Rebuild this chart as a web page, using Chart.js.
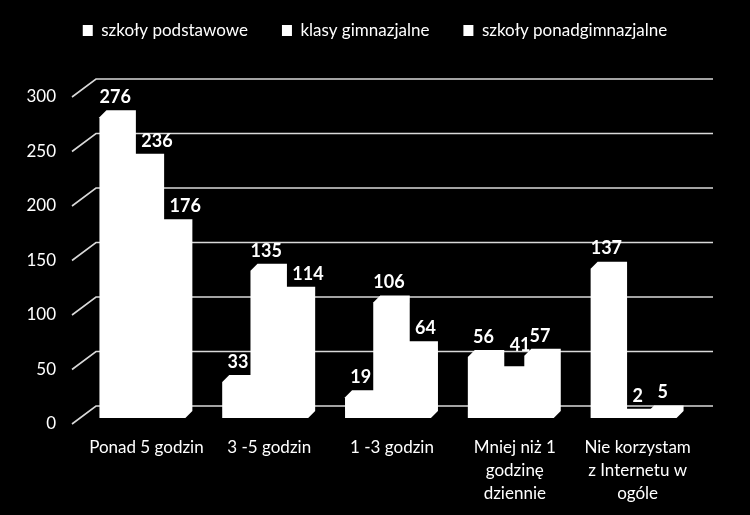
<!DOCTYPE html>
<html>
<head>
<meta charset="utf-8">
<script src="https://cdn.jsdelivr.net/npm/chart.js@4.4.0/dist/chart.umd.min.js"></script>
<style>
  html, body { margin: 0; padding: 0; background: #000; }
  canvas { display: block; background: #000; }
</style>
</head>
<body>
<canvas id="c" width="750" height="515"></canvas>
<script>
// ---- data ----
const categories = [
  'Ponad 5 godzin',
  '3 -5 godzin',
  '1 -3 godzin',
  ['Mniej niż 1', 'godzinę', 'dziennie'],
  ['Nie korzystam', 'z Internetu w', 'ogóle']
];
const seriesNames = ['szkoły podstawowe', 'klasy gimnazjalne', 'szkoły ponadgimnazjalne'];
const szkolyPodstawowe = [276, 33, 19, 56, 137];
const klasyGimnazjalne = [236, 135, 106, 41, 2];
const szkolyPonadgimnazjalne = [176, 114, 64, 57, 5];
const yMin = 0, yMax = 300, yStep = 50;

// ---- style ----
const FONT = 'Lato, "Liberation Sans", sans-serif';
const DEPTH = 7;

// back wall grid + floor diagonals
const wallGrid = {
  id: 'wallGrid',
  beforeDatasetsDraw(chart) {
    const ctx = chart.ctx, ys = chart.scales.y, area = chart.chartArea;
    ctx.save();
    ctx.strokeStyle = '#d9d9d9';
    ctx.lineWidth = 1.6;
    ys.ticks.forEach(t => {
      const yb = ys.getPixelForValue(t.value);
      const yBack = yb - 12;
      ctx.beginPath();
      ctx.moveTo(area.left - 9, yb + 6);
      ctx.lineTo(area.left + 15, yBack);
      ctx.lineTo(area.right + 18, yBack);
      ctx.stroke();
    });
    ctx.restore();
  }
};

// whole 3D silhouette of each bar (front + top + right faces) as one shape
const box3d = {
  id: 'box3d',
  afterDatasetsDraw(chart) {
    const ctx = chart.ctx, d = DEPTH, o = 0.6;
    ctx.save();
    ctx.fillStyle = '#ffffff';
    chart.data.datasets.forEach((ds, i) => {
      chart.getDatasetMeta(i).data.forEach(bar => {
        const p = bar.getProps(['x', 'y', 'base', 'width'], true);
        const x0 = p.x - p.width / 2 - o, x1 = p.x + p.width / 2 + o;
        ctx.beginPath();
        ctx.moveTo(x0, p.base);
        ctx.lineTo(x0, p.y);
        ctx.lineTo(x0 + d, p.y - d);
        ctx.lineTo(x1 + d, p.y - d);
        ctx.lineTo(x1 + d, p.base - d);
        ctx.lineTo(x1, p.base);
        ctx.closePath();
        ctx.fill();
      });
    });
    ctx.restore();
  }
};

// value labels
const valueLabels = {
  id: 'valueLabels',
  afterDatasetsDraw(chart) {
    const ctx = chart.ctx, d = DEPTH;
    ctx.save();
    ctx.fillStyle = '#ffffff';
    ctx.font = 'bold 18px ' + FONT;
    ctx.textAlign = 'center';
    ctx.textBaseline = 'middle';
    const n = chart.data.labels.length;
    const nd = chart.data.datasets.length;
    for (let j = 0; j < n; j++) {
      const props = [];
      for (let i = 0; i < nd; i++) {
        props.push(chart.getDatasetMeta(i).data[j].getProps(['x', 'y', 'base', 'width'], true));
      }
      props.forEach((p, i) => {
        const txt = String(chart.data.datasets[i].data[j]);
        const half = ctx.measureText(txt).width / 2;
        let ly = p.y - 20;
        let lx = p.x + 1;
        const prev = props[i - 1], next = props[i + 1];
        if (prev && prev.y - d < ly + 9) {
          lx = Math.max(lx, prev.x + prev.width / 2 + d + 6 + half);
        }
        if (next && next.y - d < ly + 9 && lx + half > next.x - next.width / 2 + 1) {
          ly = Math.min(ly, next.y - d - 4);
        }
        ctx.fillText(txt, lx, ly);
      });
    }
    ctx.restore();
  }
};

Chart.defaults.font.family = FONT;
Chart.defaults.color = '#ffffff';

new Chart(document.getElementById('c'), {
  type: 'bar',
  data: {
    labels: categories,
    datasets: [
      { label: seriesNames[0], data: szkolyPodstawowe, backgroundColor: '#ffffff' },
      { label: seriesNames[1], data: klasyGimnazjalne, backgroundColor: '#ffffff' },
      { label: seriesNames[2], data: szkolyPonadgimnazjalne, backgroundColor: '#ffffff' }
    ]
  },
  options: {
    responsive: false,
    animation: false,
    devicePixelRatio: 1,
    layout: { padding: { top: -12, left: 0, right: 0, bottom: 0 } },
    datasets: { bar: { categoryPercentage: 0.69, barPercentage: 1.0, borderWidth: 0 } },
    plugins: {
      legend: {
        position: 'top',
        labels: {
          color: '#ffffff',
          font: { size: 17, family: FONT },
          boxWidth: 10,
          boxHeight: 11,
          padding: 34
        }
      },
      tooltip: { enabled: false }
    },
    scales: {
      x: {
        grid: { display: false, drawTicks: false },
        border: { display: false },
        ticks: {
          color: '#ffffff',
          font: { size: 17, family: FONT, lineHeight: 1.35 },
          padding: 18,
          labelOffset: 4,
          maxRotation: 0,
          autoSkip: false
        },
        afterFit(s) { s.height = 97; }
      },
      x2: {
        type: 'category',
        position: 'top',
        display: true,
        grid: { display: false, drawTicks: false },
        border: { display: false },
        ticks: { display: false },
        afterFit(s) { s.height = 42; }
      },
      y: {
        min: yMin, max: yMax,
        grid: { display: false, drawTicks: false },
        border: { display: false },
        ticks: {
          stepSize: yStep,
          color: '#ffffff',
          font: { size: 17, family: FONT },
          padding: 25,
          labelOffset: 6
        },
        afterFit(s) { s.width = 81; }
      },
      y2: {
        position: 'right',
        display: true,
        grid: { display: false, drawTicks: false },
        border: { display: false },
        ticks: { display: false },
        afterFit(s) { s.width = 55; }
      }
    }
  },
  plugins: [wallGrid, box3d, valueLabels]
});
</script>
</body>
</html>
